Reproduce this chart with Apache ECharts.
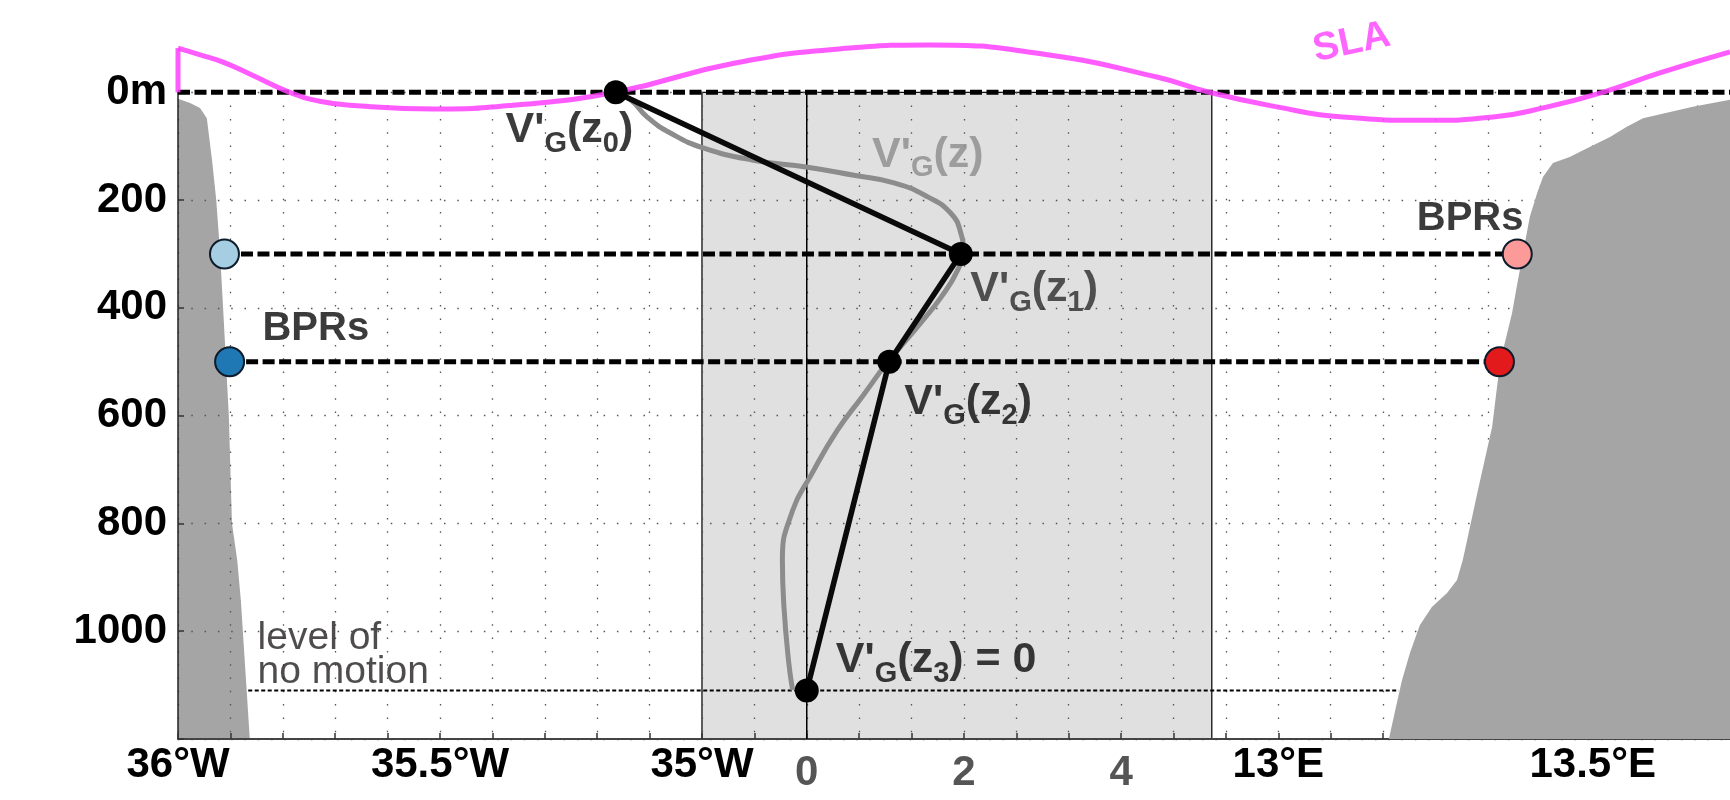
<!DOCTYPE html>
<html>
<head>
<meta charset="utf-8">
<script src="https://cdn.jsdelivr.net/npm/echarts@6/dist/echarts.min.js"></script>
<style>
    html, body { margin: 0; padding: 0; background: #fff; }
    #chart { width: 1730px; height: 800px; }
</style>
</head>
<body>
<div id="chart"></div>
<script>
// x axis counted in 0.1° tick steps from 36°W (section is cut between 35°W and 13°E)
var lonTickPos = [0, 5, 10, 21, 27];
var lonTickText = ['36°W', '35.5°W', '35°W', '13°E', '13.5°E'];
var velTickText = [0, 2, 4];
var xMax = 29.62;
var depthMax = 1200;

// grey velocity panel (x units) and velocity axis range
var boxX = [10, 19.73];
var velMin = -8, velMax = 11.747;

// sea level anomaly, negative depth = above 0m
var slaX = [0, 0.44, 0.86, 1.37, 2.13, 2.73, 3.42, 4.87, 6.39, 8.34, 10.61, 12.82, 14.35, 16.56, 18.70, 19.68, 20.97, 22.23, 23.84, 25.10, 26.05, 27.19, 28.28, 29.62];
var slaDepth = [-82, -69, -56, -34, 0, 17, 25, 31, 24, 0, -54, -82, -88, -70, -28, 0, 27, 46, 52, 46, 29, 0, -36, -75];

// topography
var westCoastX = [0, 0.23, 0.42, 0.55, 0.65, 0.73, 0.80, 0.86, 0.97, 1.03, 1.13, 1.20, 1.37];
var westCoastDepth = [12, 20, 29, 48, 126, 200, 293, 399, 600, 800, 868, 943, 1200];
var eastCoastX = [29.62, 28.91, 27.96, 27.65, 27.33, 26.95, 26.56, 26.24, 26.05, 25.94, 25.80, 25.67, 25.55, 25.46, 25.23, 25.08, 24.81, 24.56, 24.52, 24.41, 24.22, 23.93, 23.70, 23.51, 23.36, 23.23, 23.11];
var eastCoastDepth = [14, 27, 48, 64, 83, 101, 120, 131, 157, 187, 231, 298, 361, 410, 502, 621, 738, 850, 868, 905, 929, 955, 989, 1041, 1091, 1147, 1200];

// V'G(z) profile (velocity units)
var profileV = [-2.43, -2.24, -2.03, -1.73, -1.32, -0.68, 0.01, 0.60, 1.11, 1.54, 1.83, 1.96, 1.99, 1.92, 1.71, 1.45, 1.16, 1.02, 0.71, 0.39, 0.06, -0.18, -0.31, -0.29, -0.23, -0.18];
var profileDepth = [0, 14, 46, 76, 103, 126, 139, 154, 168, 194, 224, 261, 293, 330, 380, 428, 478, 502, 564, 627, 709, 776, 868, 955, 1057, 1109];

// V'G(z0..z3)
var stepV = [-2.43, 1.96, 1.05, 0];
var stepDepth = [0, 300, 500, 1110];

// BPR moorings
var bprX = [0.887, 0.985, 25.56, 25.22];
var bprDepth = [300, 500, 300, 500];
var bprColor = ['#a6cee3', '#1f78b4', '#fb9a99', '#e31a1c'];

// level of no motion
var lnmX = [1.34, 23.30];
var lnmDepth = 1110;

// text annotations
var noteText = [
    "{v|V'}{s|G}{v|(z}{s|0}{v|)}",
    "{v|V'}{s|G}{v|(z)}",
    "{v|V'}{s|G}{v|(z}{s|1}{v|)}",
    "{v|V'}{s|G}{v|(z}{s|2}{v|)}",
    "{v|V'}{s|G}{v|(z}{s|3}{v|) = 0}",
    "{b|BPRs}",
    "{b|BPRs}",
    "{sla|SLA}",
    "{t|level of}\n{t|no motion}"
];
var noteX = [7.47, 14.31, 16.34, 15.08, 14.47, 2.63, 24.66, 22.40, 1.51];
var noteDepth = [70, 116, 365, 575, 1054, 439, 235, -92, 1045];
var noteColor = ['#0a0a0a', '#8c8c8c', '#2b2b2b', '#0a0a0a', '#0a0a0a', '#0a0a0a', '#0a0a0a', '#ff40ff', '#231f20'];

var FONT = '"Liberation Sans", Arial, sans-serif';
var myChart = echarts.init(document.getElementById('chart'));

function pairs(xs, ds) {
    return xs.map(function (x, i) { return [x, Array.isArray(ds) ? ds[i] : ds]; });
}

// filled polygon through the axes
function areaSeries(pts, style, z) {
    return {
        type: 'custom', coordinateSystem: 'cartesian2d', z: z, silent: true,
        data: [pts[0]],
        renderItem: function (params, api) {
            return {
                type: 'polygon',
                shape: { points: pts.map(function (p) { return api.coord(p); }) },
                style: style
            };
        }
    };
}

function lineSeries(data, lineStyle, extra) {
    var s = {
        type: 'line', data: data, symbol: 'none', silent: true, clip: false,
        lineStyle: lineStyle, z: 4
    };
    for (var k in extra) s[k] = extra[k];
    return s;
}

function richFor(color) {
    return {
        v: { fontFamily: FONT, fontSize: 43, fontWeight: 'bold', color: color, lineHeight: 50 },
        s: { fontFamily: FONT, fontSize: 29, fontWeight: 'bold', color: color, lineHeight: 50, padding: [27, 0, 0, 0] },
        b: { fontFamily: FONT, fontSize: 40, fontWeight: 'bold', color: color },
        sla: { fontFamily: FONT, fontSize: 39, fontWeight: 'bold', color: color },
        t: { fontFamily: FONT, fontSize: 39, color: color, lineHeight: 34 }
    };
}

var dash = { color: '#000', width: 5, type: [12, 4.5] };

var westPts = pairs(westCoastX, westCoastDepth).concat([[0, depthMax]]);
var eastPts = pairs(eastCoastX, eastCoastDepth).concat([[xMax, depthMax]]);
var boxPts = [[boxX[0], 0], [boxX[1], 0], [boxX[1], depthMax], [boxX[0], depthMax]];

var noteData = noteText.map(function (t, i) {
    var last = i === noteText.length - 1;
    return {
        value: [noteX[i], noteDepth[i]],
        label: {
            show: true,
            formatter: t,
            rich: richFor(noteColor[i]),
            position: last ? 'right' : 'inside',
            distance: 0,
            align: last ? 'left' : 'center',
            verticalAlign: 'middle',
            rotate: i === 7 ? 12 : 0
        }
    };
});

var option = {
    animation: false,
    backgroundColor: '#fff',
    grid: { left: 178, right: 0, top: 92.3, bottom: 61, outerBoundsMode: 'none' },
    xAxis: [{
        type: 'value', min: 0, max: xMax, interval: 1,
        axisLine: { show: true, onZero: false, lineStyle: { color: '#444', width: 2 } },
        axisTick: { inside: true, length: 6, lineStyle: { color: '#333', width: 1.5 } },
        axisLabel: {
            margin: 5, fontFamily: FONT, fontSize: 42, fontWeight: 'bold', color: '#000',
            formatter: function (v) {
                var i = lonTickPos.indexOf(Math.round(v * 100) / 100);
                return i >= 0 ? lonTickText[i] : '';
            }
        },
        splitLine: { show: true, lineStyle: { color: '#555', width: 1.3, type: [1.5, 11.8] } }
    }, {
        type: 'value', min: velMin, max: velMax, interval: 2, position: 'bottom',
        axisLine: { show: false }, axisTick: { show: false }, splitLine: { show: false },
        axisLabel: {
            margin: 13, fontFamily: FONT, fontSize: 42, fontWeight: 'bold', color: '#555',
            formatter: function (v) { return velTickText.indexOf(v) >= 0 ? String(v) : ''; }
        }
    }],
    yAxis: {
        type: 'value', inverse: true, min: 0, max: depthMax, interval: 200,
        axisLine: { show: true, onZero: false, lineStyle: { color: '#222', width: 1.5 } },
        axisTick: { inside: true, length: 6, lineStyle: { color: '#333', width: 1.5 } },
        axisLabel: {
            margin: 11, fontFamily: FONT, fontSize: 42, fontWeight: 'bold', color: '#000',
            formatter: function (v) { return v === 0 ? '0m' : (v === depthMax ? '' : String(v)); }
        },
        splitLine: { show: true, lineStyle: { color: '#555', width: 1.3, type: [1.5, 11.8] } }
    },
    series: [
        areaSeries(boxPts, { fill: '#e0e0e0', stroke: '#111', lineWidth: 1.3 }, -1),
        areaSeries(westPts, { fill: '#a5a5a5' }, -1),
        areaSeries(eastPts, { fill: '#a5a5a5' }, 3),
        lineSeries([[0, 0], [0, depthMax]], { color: '#000', width: 1.5 }, { xAxisIndex: 1, z: 2 }),
        lineSeries(pairs([0, xMax], 0), dash),
        lineSeries(pairs([bprX[0], bprX[2]], bprDepth[0]), dash),
        lineSeries(pairs([bprX[1], bprX[3]], bprDepth[1]), dash),
        lineSeries(pairs(lnmX, lnmDepth), { color: '#000', width: 2.2, type: [4, 2.5] }),
        lineSeries([[slaX[0], 0], [slaX[0], slaDepth[0]]], { color: '#ff40ff', width: 5, opacity: 0.85 }, { z: 5 }),
        lineSeries(pairs(slaX, slaDepth), { color: '#ff40ff', width: 5, opacity: 0.85 }, { z: 5, smooth: 0.5 }),
        lineSeries(pairs(profileV, profileDepth), { color: '#8c8c8c', width: 5 }, { xAxisIndex: 1, z: 6, smooth: 0.5 }),
        {
            type: 'line', xAxisIndex: 1, z: 7, silent: true, clip: false,
            data: pairs(stepV, stepDepth),
            symbol: 'circle', symbolSize: 24, showSymbol: true,
            itemStyle: { color: '#000' },
            lineStyle: { color: '#0a0a0a', width: 5.5 }
        },
        {
            type: 'scatter', z: 8, silent: true, clip: false,
            data: bprX.map(function (x, i) {
                return { value: [x, bprDepth[i]], itemStyle: { color: bprColor[i] } };
            }),
            symbolSize: 29,
            itemStyle: { borderColor: '#0d1b2a', borderWidth: 2, opacity: 1 }
        },
        {
            type: 'scatter', z: 9, silent: true, clip: false,
            symbolSize: 1, itemStyle: { color: 'rgba(0,0,0,0)' },
            data: noteData
        }
    ]
};

myChart.setOption(option);
</script>
</body>
</html>
